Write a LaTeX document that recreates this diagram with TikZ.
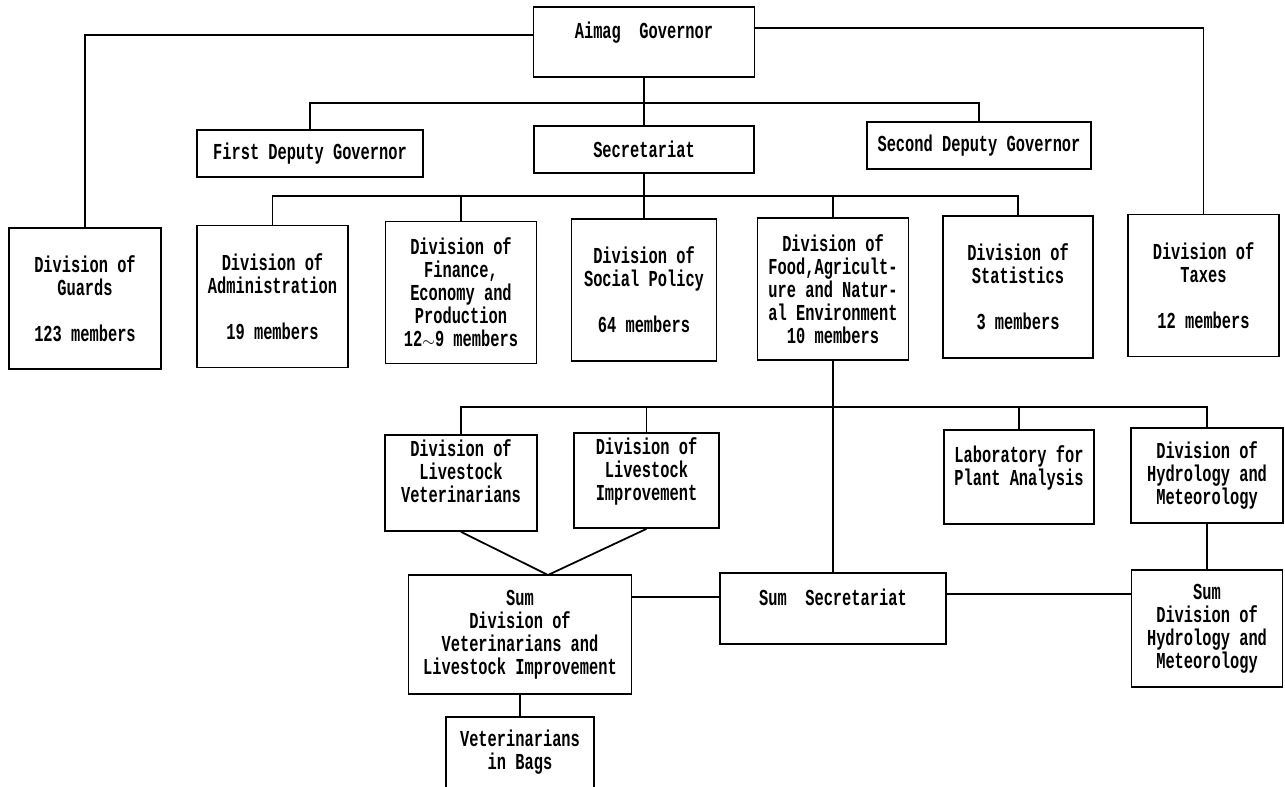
\documentclass[tikz,border=0pt]{standalone}
\usepackage{fontspec}
\newfontfamily\orgfont[FakeStretch=0.673]{Liberation Mono}

\tikzset{
	unit/.style={draw, line width=1pt, inner sep=0pt, align=center, font=\orgfont\bfseries\fontsize{13pt}{13.1pt}\selectfont},
	div/.style={unit, minimum width=3.02cm, minimum height=2.84cm},
	link/.style={line width=1pt}
}

\begin{document}
\begin{tikzpicture}[x=0.02cm, y=-0.02cm]
		\useasboundingbox (0,0) rectangle (1285,787);
		\clip (0,0) rectangle (1285,787);

		\node[unit, minimum width=4.42cm, minimum height=1.40cm] at (644,42)(gov){Aimag\ \ Governor\\\mbox{}};

		\node[unit, minimum width=4.52cm, minimum height=0.94cm] at (310,153.5)(dep1){First Deputy Governor};
		\node[unit, minimum width=4.40cm, minimum height=0.94cm] at (644,149.5)(secr){Secretariat};
		\node[unit, minimum width=4.48cm, minimum height=0.94cm] at (979,145.5)(dep2){Second Deputy Governor};

		\node[div, minimum width=3.04cm, minimum height=2.82cm] at (85,298.5)(guards){Division of\\Guards\\[13pt]123 members};
		\node[div] at (272.5,296.5)(admin){Division of\\Administration\\[13pt]19 members};
		\node[div] at (461,292.5)(fin){Division of\\Finance,\\Economy and\\Production\\12{\small$\sim$}9 members};
		\node[div, minimum width=2.90cm] at (644,290)(soc){Division of\\Social Policy\\[13pt]64 members};
		\node[div] at (833,289)(food){Division of\\Food,Agricult-\\ure and Natur-\\al Environment\\10 members};
		\node[div, minimum width=3.00cm] at (1018,287)(stat){Division of\\Statistics\\[13pt]3 members};
		\node[div] at (1203.5,285.5)(tax){Division of\\Taxes\\[13pt]12 members};

		\node[unit, minimum width=3.04cm, minimum height=1.92cm] at (461,483)(vet){Division of\\Livestock\\Veterinarians\\\mbox{}};
		\node[unit, minimum width=2.90cm, minimum height=1.90cm] at (646.5,480.5)(impr){Division of\\Livestock\\Improvement\\\mbox{}};
		\node[unit, minimum width=3.00cm, minimum height=1.88cm] at (1019,477)(lab){Laboratory for\\Plant Analysis\\\mbox{}};
		\node[unit, minimum width=3.04cm, minimum height=1.90cm] at (1207,475.5)(hydro){Division of\\Hydrology and\\Meteorology};

		\node[unit, minimum width=4.46cm, minimum height=2.38cm] at (520,634.5)(sumvet){Sum\\Division of\\Veterinarians and\\Livestock Improvement};
		\node[unit, minimum width=4.52cm, minimum height=1.42cm] at (833,608.5)(sumsec){Sum\ \ Secretariat\\\mbox{}};
		\node[unit, minimum width=3.02cm, minimum height=2.34cm] at (1207,628.5)(sumhyd){Sum\\Division of\\Hydrology and\\Meteorology};
		\node[unit, minimum width=2.96cm, minimum height=1.76cm] at (520,761)(bags){Veterinarians\\in Bags\\\mbox{}};

		\coordinate (bus1) at (644,103);
		\coordinate (bus2) at (644,196);
		\coordinate (bus3) at (833,407);
		\coordinate (apex) at (548,575);

		\draw[link] (gov.west |- 0,35) -| (guards.north);
		\draw[link] (gov.east |- 0,28) -| (tax.north);
		\draw[link] (gov) -- (secr);
		\draw[link] (dep1.north) |- (bus1) -| (dep2.north);

		\draw[link] (secr) -- (soc);
		\draw[link] (admin.north) |- (bus2) -| (stat.north);
		\path[link] (fin.north) edge (fin.north |- bus2) (food.north) edge (food.north |- bus2);

		\draw[link] (food) -- (sumsec);
		\draw[link] (vet.north) |- (bus3) -| (hydro.north);
		\path[link] (impr.north) edge (impr.north |- bus3) (lab.north) edge (lab.north |- bus3);
		\draw[link] (vet.south) -- (apex) -- (impr.south);

		\draw[link] (sumvet.east |- 0,597) -- (sumsec.west |- 0,597);
		\draw[link] (sumsec.east |- 0,594) -- (sumhyd.west |- 0,594);
		\draw[link] (hydro) -- (sumhyd);
		\draw[link] (sumvet) -- (bags);
\end{tikzpicture}
\end{document}
